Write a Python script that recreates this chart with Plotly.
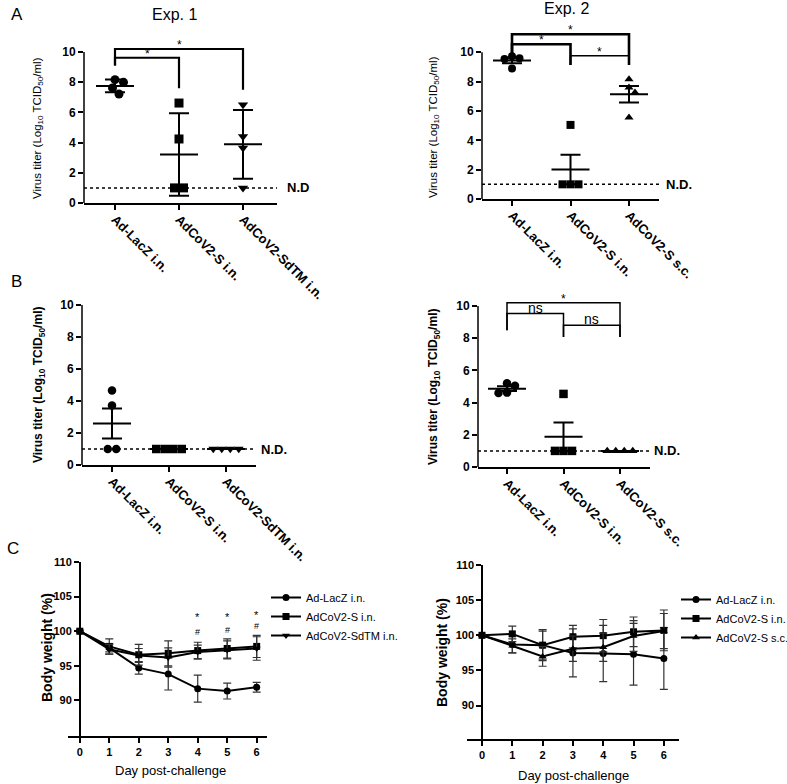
import plotly.graph_objects as go

W, H = 787, 784

# ---------------- data ----------------
cats_exp1 = ["Ad-LacZ i.n.", "AdCoV2-S i.n.", "AdCoV2-SdTM i.n."]
cats_exp2 = ["Ad-LacZ i.n.", "AdCoV2-S i.n.", "AdCoV2-S s.c."]
titer_ticks = [0, 2, 4, 6, 8, 10]
nd_level = 1.0

# Panel A, Exp. 1 (mean +/- SD)
a1_lacz = [8.17, 7.99, 7.62, 7.22]
a1_s = [6.62, 4.24, 1.0, 1.0]
a1_sdtm = [6.51, 4.41, 3.64, 1.0]
# Panel A, Exp. 2 (mean +/- SEM)
a2_lacz = [9.59, 9.54, 9.73, 8.90]
a2_s = [5.05, 1.0, 1.0, 1.0]
a2_ssc = [8.17, 7.60, 7.26, 5.55]
# Panel B, Exp. 1 (mean +/- SEM)
b1_lacz = [4.66, 3.72, 1.0, 1.0]
b1_s = [1.0, 1.0, 1.0, 1.0]
b1_sdtm = [1.0, 1.0, 1.0, 1.0]
# Panel B, Exp. 2 (mean +/- SEM)
b2_lacz = [5.20, 5.05, 4.62, 4.60]
b2_s = [4.54, 1.0, 1.0, 1.0]
b2_ssc = [1.0, 1.0, 1.0, 1.0]

# significance brackets: (group i, group j, level, leg bottom i, leg bottom j, label)
a1_sig = [(0, 1, 9.62, 9.1, 7.6, "*"), (0, 2, 10.2, 9.1, 7.5, "*")]
a2_sig = [(0, 2, 11.23, 9.86, 9.13, "*"), (0, 1, 10.55, 9.86, 9.13, "*"), (1, 2, 9.77, 9.13, 9.13, "*")]
b2_sig = [(0, 2, 10.2, 8.5, 8.08, "*"), (0, 1, 9.53, 8.5, 8.08, "ns"), (1, 2, 8.8, 8.08, 8.08, "ns")]

# Panel C, body weight (%)
days = [0, 1, 2, 3, 4, 5, 6]
weight_ticks = [90, 95, 100, 105, 110]
c1_lacz = [100, 97.6, 94.7, 93.8, 91.7, 91.35, 91.9]
c1_lacz_err = [0, 0.6, 0.9, 2.3, 1.95, 1.15, 0.7]
c1_s = [100, 97.8, 96.6, 96.8, 97.2, 97.5, 97.8]
c1_s_err = [0, 1.1, 1.5, 1.8, 1.2, 1.4, 1.6]
c1_sdtm = [100, 97.4, 96.5, 96.2, 97.0, 97.3, 97.5]
c1_sdtm_err = [0, 0.7, 1.0, 1.4, 1.0, 1.3, 1.7]
c1_sig_days = [4, 5, 6]
c1_star_y = [102.0, 102.0, 102.3]
c1_hash_y = [99.9, 100.2, 100.8]

c2_lacz = [100, 98.7, 98.6, 97.5, 97.4, 97.3, 96.7]
c2_lacz_err = [0, 1.2, 2.0, 3.4, 4.0, 4.4, 4.4]
c2_s = [100, 100.2, 98.6, 99.8, 99.95, 100.5, 100.7]
c2_s_err = [0, 1.1, 2.2, 1.6, 2.3, 2.1, 2.9]
c2_ssc = [100, 98.5, 97.0, 98.1, 98.3, 99.9, 100.6]
c2_ssc_err = [0, 1.0, 1.4, 1.8, 2.0, 2.2, 2.5]

# ---------------- helpers ----------------
FONT = "Liberation Sans, Arial, sans-serif"


def X(px):
    return px / W


def Y(py):
    return 1 - py / H


def mean(v):
    return sum(v) / len(v)


def sd(v):
    m = mean(v)
    return (sum((x - m) ** 2 for x in v) / (len(v) - 1)) ** 0.5


def sem(v):
    return sd(v) / len(v) ** 0.5


def swarm(vals, ppu, ppc, diam):
    """beeswarm offsets (category units) so markers do not overlap"""
    n = len(vals)
    off = [None] * n
    groups = {}
    for k, v in enumerate(vals):
        groups.setdefault(v, []).append(k)
    for v, ks in groups.items():
        if len(ks) > 1:
            for j, k in enumerate(ks):
                off[k] = (j - (len(ks) - 1) / 2) * diam / ppc
    placed = [k for k in range(n) if off[k] is not None]
    order = sorted([k for k in range(n) if off[k] is None], key=lambda k: -vals[k])
    cands = sorted([s * 0.5 for s in range(-60, 61)], key=lambda s: (abs(s), -s))
    for k in order:
        for c in cands:
            ok = True
            for p in placed:
                dy = (vals[k] - vals[p]) * ppu
                dx = c - off[p] * ppc
                if dx * dx + dy * dy < (diam * 0.95) ** 2:
                    ok = False
                    break
            if ok:
                off[k] = c / ppc
                break
        placed.append(k)
    return off


fig = go.Figure()
layout = {}
shapes = []
annotations = []

scatter_panels = [
    dict(idx=1, groups=[a1_lacz, a1_s, a1_sdtm], cats=cats_exp1, err=sd,
         symbols=["circle", "square", "triangle-down"], xl=84, xr=277, cat0=115, ppc=64,
         y0px=203, ppu=15.1, ymax=11.6, msize=9, sig=a1_sig, bw=[2.2, 2.2],
         nd="N.D", ndx=8),
    dict(idx=2, groups=[a2_lacz, a2_s, a2_ssc], cats=cats_exp2, err=sem,
         symbols=["circle", "square", "triangle-up"], xl=482, xr=659, cat0=512, ppc=58.5,
         y0px=199, ppu=14.67, ymax=12.2, msize=8, sig=a2_sig, bw=[2.6, 2.6, 1.5],
         nd="N.D.", ndx=5),
    dict(idx=3, groups=[b1_lacz, b1_s, b1_sdtm], cats=cats_exp1, err=sem,
         symbols=["circle", "square", "triangle-down"], xl=82, xr=256, cat0=112, ppc=57,
         y0px=465, ppu=16.0, ymax=10.4, msize=8.5, sig=[], bw=[],
         nd="N.D.", ndx=3),
    dict(idx=4, groups=[b2_lacz, b2_s, b2_ssc], cats=cats_exp2, err=sem,
         symbols=["circle", "square", "triangle-up"], xl=478, xr=650, cat0=507, ppc=56.5,
         y0px=467, ppu=16.1, ymax=11.0, msize=8.5, sig=b2_sig, bw=[1.5, 1.5, 1.5],
         nd="N.D.", ndx=2),
]

for P in scatter_panels:
    i = P["idx"]
    sx = "" if i == 1 else str(i)
    xa, ya = "x" + sx, "y" + sx
    r0 = (P["xl"] - P["cat0"]) / P["ppc"]
    r1 = (P["xr"] - P["cat0"]) / P["ppc"]
    ytop = P["y0px"] - P["ymax"] * P["ppu"]
    layout["xaxis" + sx] = dict(
        domain=[X(P["xl"]), X(P["xr"])], range=[r0, r1], anchor=ya, automargin=False,
        showline=True, linewidth=1.5, linecolor="black", ticks="outside",
        ticklen=5, tickwidth=1.5, tickcolor="black", tickvals=list(range(len(P["cats"]))),
        ticktext=P["cats"], tickangle=45, ticklabelstandoff=-3,
        tickfont=dict(family=FONT, size=13, color="black", weight="bold"),
        showgrid=False, zeroline=False)
    layout["yaxis" + sx] = dict(
        domain=[Y(P["y0px"]), Y(ytop)], range=[0, P["ymax"]], anchor=xa, automargin=False,
        showline=False, ticks="outside", ticklen=5, tickwidth=1.5, tickcolor="black",
        tickvals=titer_ticks,
        tickfont=dict(family=FONT, size=12, color="black", weight="bold"),
        showgrid=False, zeroline=False)
    # y axis line only up to 10
    shapes.append(dict(type="line", xref=xa + " domain", yref=ya, x0=0, x1=0,
                       y0=0, y1=max(titer_ticks), line=dict(color="black", width=1.5)))
    # N.D. line
    shapes.append(dict(type="line", xref=xa + " domain", yref=ya, x0=0, x1=1,
                       y0=nd_level, y1=nd_level, line=dict(color="black", width=1.5, dash="dot")))
    annotations.append(dict(text=P["nd"], xref=xa + " domain", yref=ya, x=1, y=nd_level,
                            xanchor="left", yanchor="middle", xshift=P["ndx"], showarrow=False,
                            font=dict(family=FONT, size=13, color="black", weight="bold")))
    hw = 19 / P["ppc"]
    means = [mean(g) for g in P["groups"]]
    errs = [P["err"](g) for g in P["groups"]]
    mx, my = [], []
    for k, m in enumerate(means):
        mx += [k - hw, k + hw, None]
        my += [m, m, None]
    fig.add_trace(go.Scatter(x=mx, y=my, mode="lines", xaxis=xa, yaxis=ya,
                             line=dict(color="black", width=2), showlegend=False,
                             hoverinfo="skip"))
    fig.add_trace(go.Scatter(x=list(range(len(means))), y=means, mode="markers",
                             xaxis=xa, yaxis=ya, marker=dict(size=1, color="rgba(0,0,0,0)"),
                             error_y=dict(type="data", array=errs, visible=True, width=10,
                                          thickness=2, color="black"),
                             showlegend=False))
    for k, g in enumerate(P["groups"]):
        offs = swarm(g, P["ppu"], P["ppc"], P["msize"])
        fig.add_trace(go.Scatter(x=[k + o for o in offs], y=g, mode="markers",
                                 xaxis=xa, yaxis=ya, cliponaxis=False,
                                 marker=dict(symbol=P["symbols"][k], size=P["msize"],
                                             color="black", line=dict(width=0)),
                                 showlegend=False))
    for s, (gi, gj, lev, lbi, lbj, lab) in enumerate(P["sig"]):
        fig.add_trace(go.Scatter(x=[gi, gi, gj, gj], y=[lbi, lev, lev, lbj], mode="lines",
                                 xaxis=xa, yaxis=ya, showlegend=False, hoverinfo="skip",
                                 line=dict(color="black", width=P["bw"][s])))
        if lab == "*":
            annotations.append(dict(text="*", xref=xa, yref=ya, x=(gi + gj) / 2, y=lev,
                                    xanchor="center", yanchor="bottom", yshift=-5,
                                    showarrow=False,
                                    font=dict(family=FONT, size=12, color="black")))
        else:
            annotations.append(dict(text=lab, xref=xa, yref=ya, x=(gi + gj) / 2, y=lev,
                                    xanchor="center", yanchor="bottom", yshift=-4,
                                    showarrow=False,
                                    font=dict(family=FONT, size=14, color="black")))

# ---------------- body weight panels ----------------
line_panels = [
    dict(idx=5, series=[(cats_exp1[0], c1_lacz, c1_lacz_err, "circle"),
                        (cats_exp1[1], c1_s, c1_s_err, "square"),
                        (cats_exp1[2], c1_sdtm, c1_sdtm_err, "triangle-down")],
         xl=68, xr=267, r=[-0.4, 6.35], ytop=562, ybot=736, ppu=6.92, legend="legend"),
    dict(idx=6, series=[(cats_exp2[0], c2_lacz, c2_lacz_err, "circle"),
                        (cats_exp2[1], c2_s, c2_s_err, "square"),
                        (cats_exp2[2], c2_ssc, c2_ssc_err, "triangle-up")],
         xl=467, xr=679, r=[-0.495, 6.5], ytop=565, ybot=739, ppu=7.03, legend="legend2"),
]
for P in line_panels:
    sx = str(P["idx"])
    xa, ya = "x" + sx, "y" + sx
    ymin = 110 - (P["ybot"] - P["ytop"]) / P["ppu"]
    r0, r1 = P["r"]
    ypos = X(P["xl"]) + (0 - r0) / (r1 - r0) * (X(P["xr"]) - X(P["xl"]))
    tf = dict(family=FONT, size=11, color="black", weight="bold")
    layout["xaxis" + sx] = dict(
        domain=[X(P["xl"]), X(P["xr"])], range=P["r"], anchor=ya, showline=True,
        automargin=False,
        linewidth=1.5, linecolor="black", ticks="outside", ticklen=5, tickwidth=1.5,
        tickcolor="black", tickvals=days, tickfont=tf, showgrid=False, zeroline=False)
    layout["yaxis" + sx] = dict(
        domain=[Y(P["ybot"]), Y(P["ytop"])], range=[ymin, 110], anchor="free",
        automargin=False,
        position=ypos, showline=True, linewidth=1.5, linecolor="black", ticks="outside",
        ticklen=5, tickwidth=1.5, tickcolor="black", tickvals=weight_ticks, tickfont=tf,
        showgrid=False, zeroline=False)
    for name, vals, err, sym in P["series"]:
        fig.add_trace(go.Scatter(
            x=days, y=vals, name=name, mode="lines+markers", xaxis=xa, yaxis=ya,
            cliponaxis=False, legend=P["legend"],
            line=dict(color="black", width=2),
            marker=dict(symbol=sym, size=7, color="black"),
            error_y=dict(type="data", array=err, visible=True, width=4, thickness=1.2,
                         color="#333333")))

for d, ys, yh in zip(c1_sig_days, c1_star_y, c1_hash_y):
    annotations.append(dict(text="*", xref="x5", yref="y5", x=d, y=ys, showarrow=False,
                            font=dict(family=FONT, size=11, color="black")))
    annotations.append(dict(text="#", xref="x5", yref="y5", x=d, y=yh, showarrow=False,
                            font=dict(family=FONT, size=9, color="black")))


# ---------------- texts ----------------
def ann(text, px, py, size, bold=False, angle=0, xanchor="center"):
    annotations.append(dict(text=text, xref="paper", yref="paper", x=X(px), y=Y(py),
                            xanchor=xanchor, yanchor="middle", showarrow=False, textangle=angle,
                            font=dict(family=FONT, size=size, color="black",
                                      weight="bold" if bold else "normal")))


ann("A", 9, 14, 17, xanchor="left")
ann("B", 9, 282, 17, xanchor="left")
ann("C", 5, 548, 17, xanchor="left")
ann("Exp. 1", 174, 15, 16)
ann("Exp. 2", 566, 8, 16)
ytitle = "Virus titer (Log<sub>10</sub> TCID<sub>50</sub>/ml)"
ann(ytitle, 38, 128, 11.5, angle=-90)
ann(ytitle, 434, 127, 11.5, angle=-90)
ann(ytitle, 39, 385, 12, bold=True, angle=-90)
ann(ytitle, 434, 387, 12, bold=True, angle=-90)
ann("Body weight (%)", 47, 648, 14, bold=True, angle=-90)
ann("Body weight (%)", 442, 653, 14, bold=True, angle=-90)
ann("Day post-challenge", 170, 770, 13)
ann("Day post-challenge", 573, 775, 13)

legend_common = dict(xanchor="left", yanchor="top", bgcolor="rgba(0,0,0,0)",
                     xref="container", yref="container",
                     font=dict(family=FONT, size=11, color="black"), itemwidth=30,
                     tracegroupgap=0)
layout["legend"] = dict(x=X(266), y=Y(583), **legend_common)
layout["legend2"] = dict(x=X(676), y=Y(585), **legend_common)

fig.update_layout(
    width=W, height=H, margin=dict(l=0, r=0, t=0, b=0, autoexpand=False),
    paper_bgcolor="white", plot_bgcolor="white",
    font=dict(family=FONT, color="black"),
    shapes=shapes, annotations=annotations, **layout)

fig.write_html("out.html", config={"displayModeBar": False},
               post_script="document.body.style.margin='0';document.body.style.padding='0';")
